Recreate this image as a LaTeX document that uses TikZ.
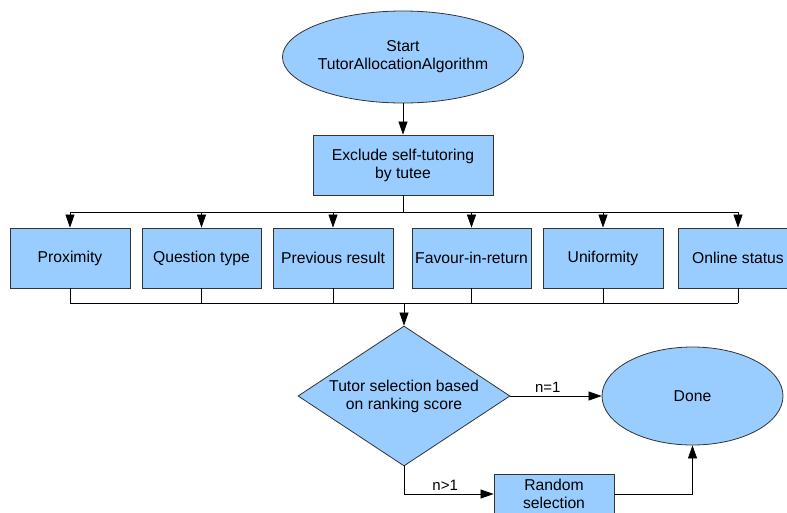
\documentclass[tikz,border=0pt]{standalone}
\usepackage{fontspec}
\setmainfont{Liberation Sans}
\usetikzlibrary{shapes.geometric,arrows.meta}
\definecolor{fillblue}{HTML}{99CCFF}
\definecolor{edge}{HTML}{333333}
\begin{document}
\begin{tikzpicture}[x=1pt,y=-1pt,
  every node/.style={font=\fontsize{15.7}{18}\selectfont, align=center},
  boxnode/.style={draw=edge, fill=fillblue, rectangle, minimum width=120pt, minimum height=60pt, inner sep=0pt, line width=0.8pt},
  ellnode/.style={draw=edge, fill=fillblue, ellipse, inner sep=0pt, line width=0.8pt},
  dianode/.style={draw=edge, fill=fillblue, diamond, aspect=1.5, inner sep=0pt, minimum width=212pt, minimum height=140pt, line width=0.8pt},
  conn/.style={draw=black, line width=0.7pt},
  arr/.style={conn, -{Triangle[width=9pt,length=13pt]}},
  lbl/.style={font=\fontsize{15}{18}\selectfont}
]
\useasboundingbox (0,0) rectangle (787,512);

\node[ellnode, minimum width=178pt, minimum height=92pt] (start) at (403,57) {Start\\TutorAllocationAlgorithm};
\node[boxnode, minimum width=180pt] (excl) at (403,165) {Exclude self-tutoring\\by tutee};

\node[boxnode] (b1) at (70,258) {Proximity};
\node[boxnode, minimum width=119pt] (b2) at (201.5,258) {Question type};
\node[boxnode] (b3) at (333,258) {Previous result};
\node[boxnode, minimum width=119pt] (b4) at (471.5,258) {Favour-in-return};
\node[boxnode] (b5) at (603,258) {Uniformity};
\node[boxnode] (b6) at (738,258) {Online status};

\node[dianode] (dia) at (404,396) {Tutor selection based\\on ranking score};
\node[ellnode, minimum width=181pt, minimum height=98pt] (done) at (692.5,396) {Done};
\node[boxnode, minimum height=40pt] (rand) at (554,494) {Random\\selection};

\coordinate (bus1) at (403,212);
\coordinate (bus2) at (404,303);

\draw[arr] (start) -- (excl);
\draw[conn] (excl.south) -- (bus1);
\draw[conn] (b1.north |- bus1) -- (b6.north |- bus1);
\foreach \b in {b1,b2,b3,b4,b5,b6} {
  \draw[arr] (\b.north |- bus1) -- (\b.north);
  \draw[conn] (\b.south) -- (\b.south |- bus2);
}
\draw[conn] (b1.south |- bus2) -- (b6.south |- bus2);
\draw[arr] (bus2) -- (dia.north);

\draw[arr] (dia.east) -- node[lbl, above, pos=0.41] {n=1} (done.west);
\draw[arr] (dia.south) |- node[lbl, above, pos=0.73] {n>1} (rand.west);
\draw[arr] (rand.east) -| (done.south);
\end{tikzpicture}
\end{document}
